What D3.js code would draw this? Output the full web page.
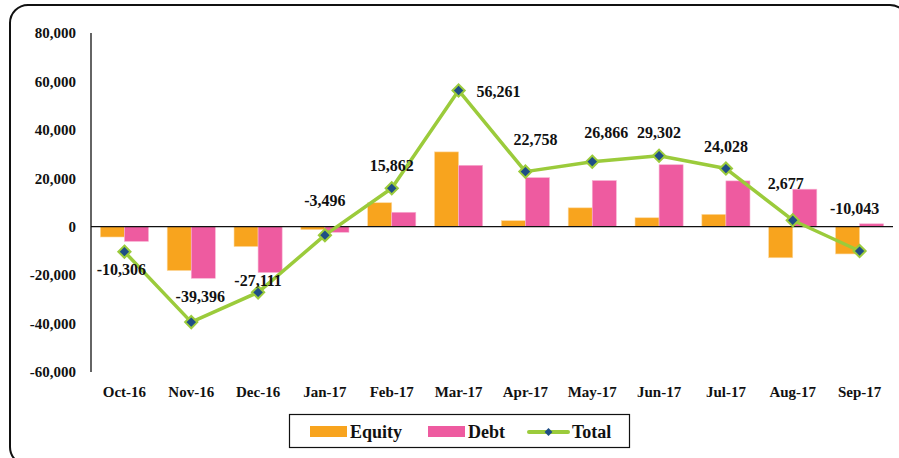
<!DOCTYPE html>
<html>
<head>
<meta charset="utf-8">
<script src="https://cdn.jsdelivr.net/npm/d3@7"></script>
<style>
  body { margin: 0; background: #fff; }
</style>
</head>
<body>
<script>
'use strict';

var width = 899,
    height = 458;

// data
var months = ["Oct-16", "Nov-16", "Dec-16", "Jan-17", "Feb-17", "Mar-17",
              "Apr-17", "May-17", "Jun-17", "Jul-17", "Aug-17", "Sep-17"];
var equity = [-4250, -18100, -8200, -1200, 9900, 30900, 2500, 7800, 3700, 5100, -12823, -11243];
var debt   = [-6056, -21296, -18911, -2296, 5962, 25361, 20258, 19066, 25602, 18928, 15500, 1200];
var total  = [-10306, -39396, -27111, -3496, 15862, 56261, 22758, 26866, 29302, 24028, 2677, -10043];
var yTicks = [80000, 60000, 40000, 20000, 0, -20000, -40000, -60000];

// where each total label sits relative to its marker (dx, dy)
var labelShift = [[-3, 18], [9, -26], [0, -12], [0, -35], [0, -23], [40, 1],
                  [10, -32], [14, -29], [0, -23], [0, -22], [-7, -37], [-5, -43]];

var FONT = "'Liberation Serif', 'Times New Roman', serif";

var svg = d3.select("body").append("svg")
    .attr("width", width)
    .attr("height", height);

// rounded frame
svg.append("rect")
    .attr("x", 10).attr("y", 5)
    .attr("width", 898).attr("height", 460)
    .attr("rx", 18).attr("ry", 18)
    .attr("fill", "none")
    .attr("stroke", "#111")
    .attr("stroke-width", 2);

var x = d3.scaleBand()
    .domain(months)
    .range([91, 893])
    .paddingInner(0.28)
    .paddingOuter(0.14);

var y = d3.scaleLinear()
    .domain([-60000, 80000])
    .range([372, 33]);

// plain hyphen for negatives, like the original
var fmt = function(d) { return d3.format(",")(d).replace("\u2212", "-"); };

function label(sel, size) {
    return sel
        .style("font-family", FONT)
        .style("font-weight", "bold")
        .style("font-size", size)
        .style("fill", "#111");
}

// y axis: line plus labels, no ticks
svg.append("line")
    .attr("x1", 91).attr("x2", 91)
    .attr("y1", y(80000)).attr("y2", y(-60000))
    .attr("stroke", "#111").attr("stroke-width", 1.3);

svg.append("g")
    .selectAll("text")
    .data(yTicks)
    .enter().append("text")
        .attr("x", 76)
        .attr("y", function(d) { return y(d); })
        .attr("dy", "0.35em")
        .attr("text-anchor", "end")
        .call(label, "15px")
        .text(function(d) { return fmt(d); });

var cx = function(m) { return x(m) + x.bandwidth() / 2; };

// x labels
svg.append("g")
    .selectAll("text")
    .data(months)
    .enter().append("text")
        .attr("x", cx)
        .attr("y", 392)
        .attr("dy", "0.35em")
        .attr("text-anchor", "middle")
        .call(label, "15px")
        .text(function(d) { return d; });

var barW = x.bandwidth() / 2;

svg.append("g")
    .selectAll("rect")
    .data(equity)
    .enter().append("rect")
        .attr("x", function(d, i) { return x(months[i]); })
        .attr("y", function(d) { return y(Math.max(d, 0)); })
        .attr("width", barW)
        .attr("height", function(d) { return Math.abs(y(d) - y(0)); })
        .attr("fill", "#F8A41E")
        .attr("stroke", "#FCD9A0")
        .attr("stroke-width", 0.6);

svg.append("g")
    .selectAll("rect")
    .data(debt)
    .enter().append("rect")
        .attr("x", function(d, i) { return x(months[i]) + barW; })
        .attr("y", function(d) { return y(Math.max(d, 0)); })
        .attr("width", barW)
        .attr("height", function(d) { return Math.abs(y(d) - y(0)); })
        .attr("fill", "#EE5BA0")
        .attr("stroke", "#F7B3D3")
        .attr("stroke-width", 0.6);

// zero line
svg.append("line")
    .attr("x1", 91).attr("x2", 893)
    .attr("y1", y(0)).attr("y2", y(0))
    .attr("stroke", "#111").attr("stroke-width", 1.3);

// total line
var line = d3.line()
    .x(function(d, i) { return cx(months[i]); })
    .y(function(d) { return y(d); });

svg.append("path")
    .datum(total)
    .attr("d", line)
    .attr("fill", "none")
    .attr("stroke", "#9BCB3B")
    .attr("stroke-width", 3.5)
    .attr("stroke-linejoin", "round");

var diamond = d3.symbol().type(d3.symbolDiamond2).size(95);

svg.append("g")
    .selectAll("path")
    .data(total)
    .enter().append("path")
        .attr("d", diamond)
        .attr("transform", function(d, i) { return "translate(" + cx(months[i]) + "," + y(d) + ")"; })
        .attr("fill", "#1F4E86")
        .attr("stroke", "#9BCB3B")
        .attr("stroke-width", 2);

svg.append("g")
    .selectAll("text")
    .data(total)
    .enter().append("text")
        .attr("x", function(d, i) { return cx(months[i]) + labelShift[i][0]; })
        .attr("y", function(d, i) { return y(d) + labelShift[i][1]; })
        .attr("dy", "0.35em")
        .attr("text-anchor", "middle")
        .call(label, "16px")
        .text(function(d) { return fmt(d); });

// legend
var legend = svg.append("g");

legend.append("rect")
    .attr("x", 289.5).attr("y", 414.5)
    .attr("width", 340).attr("height", 33)
    .attr("fill", "#fff")
    .attr("stroke", "#111").attr("stroke-width", 1.2);

legend.append("rect")
    .attr("x", 310).attr("y", 426)
    .attr("width", 37).attr("height", 11)
    .attr("fill", "#F8A41E");
legend.append("text")
    .attr("x", 350).attr("y", 432).attr("dy", "0.35em")
    .call(label, "18px")
    .text("Equity");

legend.append("rect")
    .attr("x", 428).attr("y", 426)
    .attr("width", 37).attr("height", 11)
    .attr("fill", "#EE5BA0");
legend.append("text")
    .attr("x", 468).attr("y", 432).attr("dy", "0.35em")
    .call(label, "18px")
    .text("Debt");

legend.append("line")
    .attr("x1", 529).attr("x2", 568)
    .attr("y1", 432).attr("y2", 432)
    .attr("stroke", "#9BCB3B").attr("stroke-width", 4)
    .attr("stroke-linecap", "round");
legend.append("path")
    .attr("d", d3.symbol().type(d3.symbolDiamond2).size(40))
    .attr("transform", "translate(548.5,432)")
    .attr("fill", "#1F4E86");
legend.append("text")
    .attr("x", 572).attr("y", 432).attr("dy", "0.35em")
    .call(label, "18px")
    .text("Total");
</script>
</body>
</html>
